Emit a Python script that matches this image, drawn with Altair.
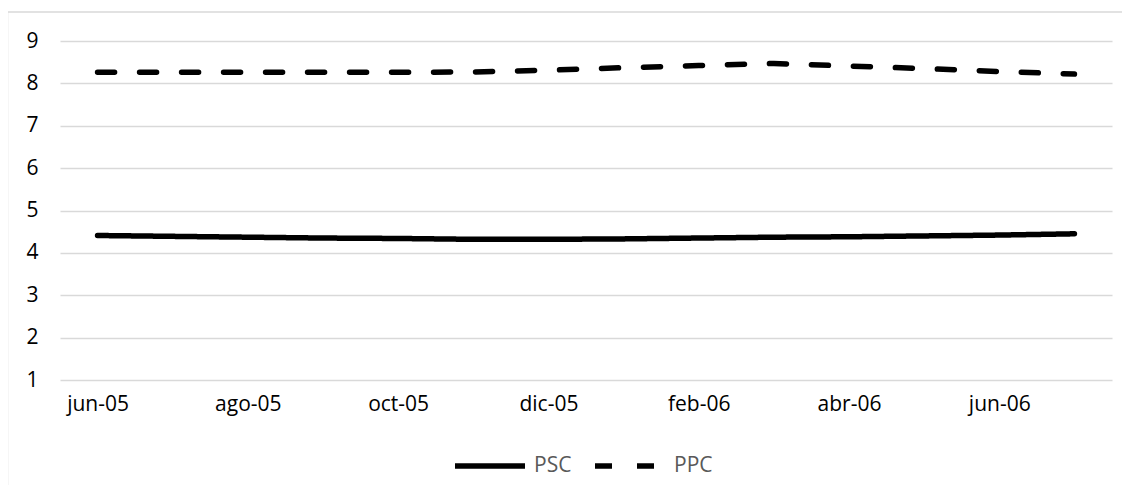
import altair as alt
import pandas as pd

months = ["jun-05", "jul-05", "ago-05", "sep-05", "oct-05", "nov-05", "dic-05",
          "ene-06", "feb-06", "mar-06", "abr-06", "may-06", "jun-06", "jul-06"]
tick_labels = ["jun-05", "ago-05", "oct-05", "dic-05", "feb-06", "abr-06", "jun-06"]
psc = [4.41, 4.39, 4.37, 4.35, 4.34, 4.32, 4.32, 4.33, 4.35, 4.37, 4.38, 4.40, 4.42, 4.45]
ppc = [8.26, 8.26, 8.26, 8.26, 8.26, 8.27, 8.31, 8.37, 8.42, 8.47, 8.41, 8.35, 8.28, 8.22]
series = ["PSC", "PPC"]

rows = []
for i, m in enumerate(months):
    rows.append({"mes": m, "serie": "PSC", "valor": psc[i], "orden": i})
    rows.append({"mes": m, "serie": "PPC", "valor": ppc[i], "orden": i})
df = pd.DataFrame(rows)

FONT = "Open Sans"
FS = 21

legend_kw = dict(title=None, orient="none", direction="horizontal",
                 legendX=392, legendY=387, symbolType="stroke",
                 symbolSize=4900, symbolStrokeWidth=5.5,
                 labelFont=FONT, labelFontSize=FS, labelColor="#595959",
                 labelOffset=6, columnPadding=12)

lines = alt.Chart(df).mark_line(strokeWidth=5.5, strokeCap="round", strokeJoin="round").encode(
    x=alt.X("mes:O", sort=months, scale=alt.Scale(type="point", padding=0.5),
            axis=alt.Axis(title=None, values=tick_labels, labelAngle=0, ticks=False, domain=False,
                          grid=False, labelPadding=13, labelFontSize=FS, labelFont=FONT,
                          labelColor="#000000")),
    y=alt.Y("valor:Q", scale=alt.Scale(domain=[1, 9], nice=False, zero=False),
            axis=alt.Axis(title=None, values=[1, 2, 3, 4, 5, 6, 7, 8, 9], ticks=False, domain=False,
                          grid=True, gridColor="#d9d9d9", gridWidth=1.3, labelPadding=22,
                          labelFontSize=FS, labelFont=FONT, labelColor="#000000")),
    color=alt.Color("serie:N", scale=alt.Scale(domain=series, range=["#000000", "#000000"]),
                    legend=alt.Legend(**legend_kw)),
    strokeDash=alt.StrokeDash("serie:N", scale=alt.Scale(domain=series, range=[[1, 0], [17, 25]]),
                              legend=alt.Legend(**legend_kw)),
    detail="serie:N",
    order="orden:Q",
)

border = alt.Chart(pd.DataFrame({"a": [0]})).mark_rect(fill=None, stroke="#d9d9d9", strokeWidth=1.5).encode(
    x=alt.value(-52.5), x2=alt.value(1070), y=alt.value(-29), y2=alt.value(470)
)

chart = alt.layer(border, lines).properties(
    width=1052, height=339,
    autosize=alt.AutoSizeParams(type="none"),
    padding={"left": 52, "top": 33, "right": 10, "bottom": 105},
    background="#ffffff",
).configure_view(stroke=None)

chart.save("out.html", embed_options={"renderer": "svg", "actions": False})
